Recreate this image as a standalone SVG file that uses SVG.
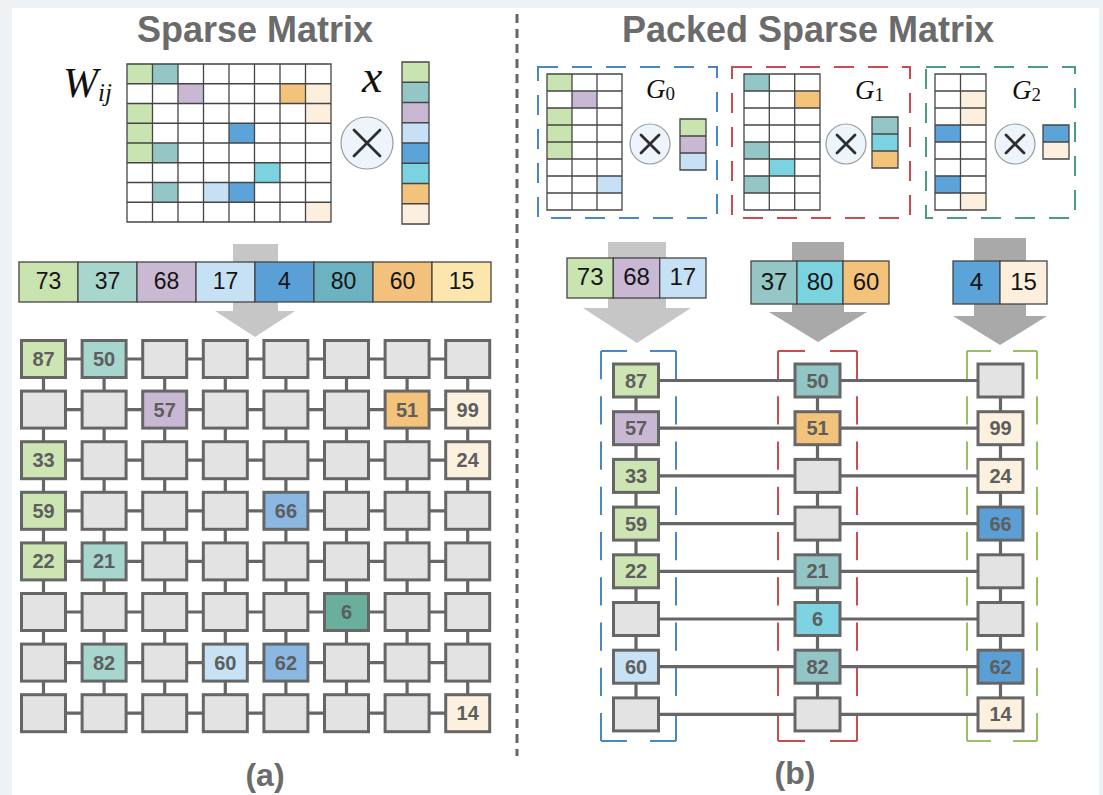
<svg xmlns="http://www.w3.org/2000/svg" width="1103" height="795" viewBox="0 0 1103 795">
<style>
  .title{font-family:"Liberation Sans",Arial,sans-serif;font-weight:bold;font-size:36px;fill:#6b6b6b;text-anchor:middle}
  .cap{font-family:"Liberation Sans",Arial,sans-serif;font-weight:bold;font-size:32px;fill:#6b6b6b;text-anchor:middle}
  .math{font-family:"Liberation Serif","Times New Roman",serif;font-style:italic;fill:#111}
  .sub{font-style:normal}
  .num{font-family:"Liberation Sans",Arial,sans-serif;font-size:23px;fill:#151515;text-anchor:middle}
  .num2{font-family:"Liberation Sans",Arial,sans-serif;font-size:24px;fill:#151515;text-anchor:middle}
  .lbl{font-family:"Liberation Sans",Arial,sans-serif;font-weight:bold;font-size:20px;fill:#5e5e5e;text-anchor:middle}
  .grid{fill:none;stroke:#454545;stroke-width:1.3}
  .cell{stroke:#454545;stroke-width:1.3}
  .n{fill:#e3e3e3;stroke:#666;stroke-width:3}
  .conn{stroke:#666;stroke-width:3.2;fill:none}
  .op{fill:#eef4fb;stroke:#9a9a9a;stroke-width:1.2}
  .opx{stroke:#2e2e2e;stroke-width:2.8;stroke-linecap:round}
  .fr{fill:none;stroke-width:2}
  .frv{stroke-dasharray:28.25 17}
  .g{fill:#c9e4b1}.t{fill:#93c6c4}.p{fill:#c9b8d4}.lb{fill:#c6e1f5}.b{fill:#5ba3d9}
  .c{fill:#7cd3e0}.o{fill:#f3c27b}.cr{fill:#fcefdd}
  .gn{fill:#cce5b3}.tp{fill:#a6d6cd}.pn{fill:#c9b8d3}.on{fill:#f3c27b}.crn{fill:#fcf0de}
  .bn{fill:#8ab8e3}.dk{fill:#6aae9c}.lbn{fill:#c7e1f5}
  .tr{fill:#92c5c5}.cy{fill:#7dd3e1}.br{fill:#5aa0d6}
  .arL{fill:#c6c6c6}.arD{fill:#a9a9a9}
</style>

<!-- page -->
<rect x="0" y="0" width="1103" height="795" fill="#eef2f5"/>
<rect x="12" y="8" width="1087" height="787" fill="#ffffff"/>

<!-- divider -->
<line x1="517" y1="14" x2="517" y2="756" stroke="#666" stroke-width="3" stroke-dasharray="9 6"/>

<!-- headings -->
<text class="title" x="255" y="42">Sparse Matrix</text>
<text class="title" x="808" y="42">Packed Sparse Matrix</text>
<text class="cap" x="265" y="786">(a)</text>
<text class="cap" x="795" y="784">(b)</text>

<!-- ============ (a) sparse matrix times vector ============ -->
<g id="w-matrix">
  <text class="math" x="63" y="97" font-size="42">W<tspan font-size="25" dy="4">ij</tspan></text>
  <rect class="g" x="127" y="64" width="25.5" height="19.75"/>
  <rect class="t" x="152.5" y="64" width="25.5" height="19.75"/>
  <rect class="p" x="178" y="83.75" width="25.5" height="19.75"/>
  <rect class="o" x="280" y="83.75" width="25.5" height="19.75"/>
  <rect class="cr" x="305.5" y="83.75" width="25.5" height="19.75"/>
  <rect class="g" x="127" y="103.5" width="25.5" height="19.75"/>
  <rect class="cr" x="305.5" y="103.5" width="25.5" height="19.75"/>
  <rect class="g" x="127" y="123.25" width="25.5" height="19.75"/>
  <rect class="b" x="229" y="123.25" width="25.5" height="19.75"/>
  <rect class="g" x="127" y="143" width="25.5" height="19.75"/>
  <rect class="t" x="152.5" y="143" width="25.5" height="19.75"/>
  <rect class="c" x="254.5" y="162.75" width="25.5" height="19.75"/>
  <rect class="t" x="152.5" y="182.5" width="25.5" height="19.75"/>
  <rect class="lb" x="203.5" y="182.5" width="25.5" height="19.75"/>
  <rect class="b" x="229" y="182.5" width="25.5" height="19.75"/>
  <rect class="cr" x="305.5" y="202.25" width="25.5" height="19.75"/>
  <path class="grid" d="M127 64H331V222H127Z M127 83.75H331 M127 103.5H331 M127 123.25H331 M127 143H331 M127 162.75H331 M127 182.5H331 M127 202.25H331 M152.5 64V222 M178 64V222 M203.5 64V222 M229 64V222 M254.5 64V222 M280 64V222 M305.5 64V222"/>
</g>

<g id="times-a">
  <circle class="op" cx="367" cy="143" r="26"/>
  <path class="opx" d="M354 130L380 156M380 130L354 156"/>
</g>

<g id="x-vector">
  <text class="math" x="362" y="92" font-size="46">x</text>
  <rect class="g" x="402" y="62" width="27" height="20.25"/>
  <rect class="t" x="402" y="82.25" width="27" height="20.25"/>
  <rect class="p" x="402" y="102.5" width="27" height="20.25"/>
  <rect class="lb" x="402" y="122.75" width="27" height="20.25"/>
  <rect class="b" x="402" y="143" width="27" height="20.25"/>
  <rect class="c" x="402" y="163.25" width="27" height="20.25"/>
  <rect class="o" x="402" y="183.5" width="27" height="20.25"/>
  <rect class="cr" x="402" y="203.75" width="27" height="20.25"/>
  <path class="grid" d="M402 62H429V224H402Z M402 82.25H429 M402 102.5H429 M402 122.75H429 M402 143H429 M402 163.25H429 M402 183.5H429 M402 203.75H429"/>
</g>

<!-- big arrow into the PE array -->
<path id="arrow-a" class="arL" d="M233 244H278V311H295L255 337L215 311H233Z"/>

<g id="values-a">
  <rect class="cell" x="19" y="262" width="59" height="40" fill="#c8e2b0"/>
  <rect class="cell" x="78" y="262" width="59" height="40" fill="#a9d6cc"/>
  <rect class="cell" x="137" y="262" width="59" height="40" fill="#cab9d3"/>
  <rect class="cell" x="196" y="262" width="59" height="40" fill="#c7e1f4"/>
  <rect class="cell" x="255" y="262" width="59" height="40" fill="#5a9fd6"/>
  <rect class="cell" x="314" y="262" width="59" height="40" fill="#6cb2c1"/>
  <rect class="cell" x="373" y="262" width="59" height="40" fill="#f2c17b"/>
  <rect class="cell" x="432" y="262" width="59" height="40" fill="#fbe7ad"/>
  <text class="num" x="48.5" y="289">73</text>
  <text class="num" x="107.5" y="289">37</text>
  <text class="num" x="166.5" y="289">68</text>
  <text class="num" x="225.5" y="289">17</text>
  <text class="num" x="284.5" y="289">4</text>
  <text class="num" x="343.5" y="289">80</text>
  <text class="num" x="402.5" y="289">60</text>
  <text class="num" x="461.5" y="289">15</text>
</g>

<!-- 8x8 PE array links -->
<g id="links-a">
  <path class="conn" d="M43.5 359H467.7 M43.5 409.6H467.7 M43.5 460.2H467.7 M43.5 510.8H467.7 M43.5 561.4H467.7 M43.5 612H467.7 M43.5 662.6H467.7 M43.5 713.2H467.7"/>
  <path class="conn" d="M43.5 359V713.2 M104.1 359V713.2 M164.7 359V713.2 M225.3 359V713.2 M285.9 359V713.2 M346.5 359V713.2 M407.1 359V713.2 M467.7 359V713.2"/>
</g>

<!-- row 0 -->
<g id="a-r0c0"><rect class="n gn" x="21.5" y="340.5" width="44" height="37"/><text class="lbl" x="43.5" y="366">87</text></g>
<g id="a-r0c1"><rect class="n tp" x="82.1" y="340.5" width="44" height="37"/><text class="lbl" x="104.1" y="366">50</text></g>
<g id="a-r0c2"><rect class="n" x="142.7" y="340.5" width="44" height="37"/></g>
<g id="a-r0c3"><rect class="n" x="203.3" y="340.5" width="44" height="37"/></g>
<g id="a-r0c4"><rect class="n" x="263.9" y="340.5" width="44" height="37"/></g>
<g id="a-r0c5"><rect class="n" x="324.5" y="340.5" width="44" height="37"/></g>
<g id="a-r0c6"><rect class="n" x="385.1" y="340.5" width="44" height="37"/></g>
<g id="a-r0c7"><rect class="n" x="445.7" y="340.5" width="44" height="37"/></g>
<!-- row 1 -->
<g id="a-r1c0"><rect class="n" x="21.5" y="391.1" width="44" height="37"/></g>
<g id="a-r1c1"><rect class="n" x="82.1" y="391.1" width="44" height="37"/></g>
<g id="a-r1c2"><rect class="n pn" x="142.7" y="391.1" width="44" height="37"/><text class="lbl" x="164.7" y="416.6">57</text></g>
<g id="a-r1c3"><rect class="n" x="203.3" y="391.1" width="44" height="37"/></g>
<g id="a-r1c4"><rect class="n" x="263.9" y="391.1" width="44" height="37"/></g>
<g id="a-r1c5"><rect class="n" x="324.5" y="391.1" width="44" height="37"/></g>
<g id="a-r1c6"><rect class="n on" x="385.1" y="391.1" width="44" height="37"/><text class="lbl" x="407.1" y="416.6">51</text></g>
<g id="a-r1c7"><rect class="n crn" x="445.7" y="391.1" width="44" height="37"/><text class="lbl" x="467.7" y="416.6">99</text></g>
<!-- row 2 -->
<g id="a-r2c0"><rect class="n gn" x="21.5" y="441.7" width="44" height="37"/><text class="lbl" x="43.5" y="467.2">33</text></g>
<g id="a-r2c1"><rect class="n" x="82.1" y="441.7" width="44" height="37"/></g>
<g id="a-r2c2"><rect class="n" x="142.7" y="441.7" width="44" height="37"/></g>
<g id="a-r2c3"><rect class="n" x="203.3" y="441.7" width="44" height="37"/></g>
<g id="a-r2c4"><rect class="n" x="263.9" y="441.7" width="44" height="37"/></g>
<g id="a-r2c5"><rect class="n" x="324.5" y="441.7" width="44" height="37"/></g>
<g id="a-r2c6"><rect class="n" x="385.1" y="441.7" width="44" height="37"/></g>
<g id="a-r2c7"><rect class="n crn" x="445.7" y="441.7" width="44" height="37"/><text class="lbl" x="467.7" y="467.2">24</text></g>
<!-- row 3 -->
<g id="a-r3c0"><rect class="n gn" x="21.5" y="492.3" width="44" height="37"/><text class="lbl" x="43.5" y="517.8">59</text></g>
<g id="a-r3c1"><rect class="n" x="82.1" y="492.3" width="44" height="37"/></g>
<g id="a-r3c2"><rect class="n" x="142.7" y="492.3" width="44" height="37"/></g>
<g id="a-r3c3"><rect class="n" x="203.3" y="492.3" width="44" height="37"/></g>
<g id="a-r3c4"><rect class="n bn" x="263.9" y="492.3" width="44" height="37"/><text class="lbl" x="285.9" y="517.8">66</text></g>
<g id="a-r3c5"><rect class="n" x="324.5" y="492.3" width="44" height="37"/></g>
<g id="a-r3c6"><rect class="n" x="385.1" y="492.3" width="44" height="37"/></g>
<g id="a-r3c7"><rect class="n" x="445.7" y="492.3" width="44" height="37"/></g>
<!-- row 4 -->
<g id="a-r4c0"><rect class="n gn" x="21.5" y="542.9" width="44" height="37"/><text class="lbl" x="43.5" y="568.4">22</text></g>
<g id="a-r4c1"><rect class="n tp" x="82.1" y="542.9" width="44" height="37"/><text class="lbl" x="104.1" y="568.4">21</text></g>
<g id="a-r4c2"><rect class="n" x="142.7" y="542.9" width="44" height="37"/></g>
<g id="a-r4c3"><rect class="n" x="203.3" y="542.9" width="44" height="37"/></g>
<g id="a-r4c4"><rect class="n" x="263.9" y="542.9" width="44" height="37"/></g>
<g id="a-r4c5"><rect class="n" x="324.5" y="542.9" width="44" height="37"/></g>
<g id="a-r4c6"><rect class="n" x="385.1" y="542.9" width="44" height="37"/></g>
<g id="a-r4c7"><rect class="n" x="445.7" y="542.9" width="44" height="37"/></g>
<!-- row 5 -->
<g id="a-r5c0"><rect class="n" x="21.5" y="593.5" width="44" height="37"/></g>
<g id="a-r5c1"><rect class="n" x="82.1" y="593.5" width="44" height="37"/></g>
<g id="a-r5c2"><rect class="n" x="142.7" y="593.5" width="44" height="37"/></g>
<g id="a-r5c3"><rect class="n" x="203.3" y="593.5" width="44" height="37"/></g>
<g id="a-r5c4"><rect class="n" x="263.9" y="593.5" width="44" height="37"/></g>
<g id="a-r5c5"><rect class="n dk" x="324.5" y="593.5" width="44" height="37"/><text class="lbl" x="346.5" y="619">6</text></g>
<g id="a-r5c6"><rect class="n" x="385.1" y="593.5" width="44" height="37"/></g>
<g id="a-r5c7"><rect class="n" x="445.7" y="593.5" width="44" height="37"/></g>
<!-- row 6 -->
<g id="a-r6c0"><rect class="n" x="21.5" y="644.1" width="44" height="37"/></g>
<g id="a-r6c1"><rect class="n tp" x="82.1" y="644.1" width="44" height="37"/><text class="lbl" x="104.1" y="669.6">82</text></g>
<g id="a-r6c2"><rect class="n" x="142.7" y="644.1" width="44" height="37"/></g>
<g id="a-r6c3"><rect class="n lbn" x="203.3" y="644.1" width="44" height="37"/><text class="lbl" x="225.3" y="669.6">60</text></g>
<g id="a-r6c4"><rect class="n bn" x="263.9" y="644.1" width="44" height="37"/><text class="lbl" x="285.9" y="669.6">62</text></g>
<g id="a-r6c5"><rect class="n" x="324.5" y="644.1" width="44" height="37"/></g>
<g id="a-r6c6"><rect class="n" x="385.1" y="644.1" width="44" height="37"/></g>
<g id="a-r6c7"><rect class="n" x="445.7" y="644.1" width="44" height="37"/></g>
<!-- row 7 -->
<g id="a-r7c0"><rect class="n" x="21.5" y="694.7" width="44" height="37"/></g>
<g id="a-r7c1"><rect class="n" x="82.1" y="694.7" width="44" height="37"/></g>
<g id="a-r7c2"><rect class="n" x="142.7" y="694.7" width="44" height="37"/></g>
<g id="a-r7c3"><rect class="n" x="203.3" y="694.7" width="44" height="37"/></g>
<g id="a-r7c4"><rect class="n" x="263.9" y="694.7" width="44" height="37"/></g>
<g id="a-r7c5"><rect class="n" x="324.5" y="694.7" width="44" height="37"/></g>
<g id="a-r7c6"><rect class="n" x="385.1" y="694.7" width="44" height="37"/></g>
<g id="a-r7c7"><rect class="n crn" x="445.7" y="694.7" width="44" height="37"/><text class="lbl" x="467.7" y="720.2">14</text></g>

<!-- ============ (b) packed groups ============ -->
<g id="group-g0">
  <rect x="538" y="67" width="179" height="151" fill="none" stroke="#4a86c4" stroke-width="2" stroke-dasharray="20 14"/>
  <rect class="g" x="547" y="74" width="25" height="17"/>
  <rect class="p" x="572" y="91" width="25" height="17"/>
  <rect class="g" x="547" y="108" width="25" height="17"/>
  <rect class="g" x="547" y="125" width="25" height="17"/>
  <rect class="g" x="547" y="142" width="25" height="17"/>
  <rect class="lb" x="597" y="176" width="25" height="17"/>
  <path class="grid" d="M547 74H622V210H547Z M547 91H622 M547 108H622 M547 125H622 M547 142H622 M547 159H622 M547 176H622 M547 193H622 M572 74V210 M597 74V210"/>
  <circle class="op" cx="650" cy="144" r="20"/>
  <path class="opx" d="M641 135L659 153M659 135L641 153"/>
  <rect class="g" x="680" y="119" width="26" height="17"/>
  <rect class="p" x="680" y="136" width="26" height="17"/>
  <rect class="lb" x="680" y="153" width="26" height="17"/>
  <path class="grid" d="M680 119H706V170H680Z M680 136H706 M680 153H706"/>
  <text class="math" x="646" y="98" font-size="27">G<tspan class="sub" font-size="19" dy="2">0</tspan></text>
</g>

<g id="group-g1">
  <rect x="732" y="67" width="178" height="151" fill="none" stroke="#cc4b52" stroke-width="2" stroke-dasharray="20 14"/>
  <rect class="t" x="744" y="74" width="25.3" height="17"/>
  <rect class="o" x="794.7" y="91" width="25.3" height="17"/>
  <rect class="t" x="744" y="142" width="25.3" height="17"/>
  <rect class="c" x="769.3" y="159" width="25.4" height="17"/>
  <rect class="t" x="744" y="176" width="25.3" height="17"/>
  <path class="grid" d="M744 74H820V210H744Z M744 91H820 M744 108H820 M744 125H820 M744 142H820 M744 159H820 M744 176H820 M744 193H820 M769.3 74V210 M794.7 74V210"/>
  <circle class="op" cx="846" cy="144" r="20"/>
  <path class="opx" d="M837 135L855 153M855 135L837 153"/>
  <rect class="t" x="872" y="117" width="26" height="17"/>
  <rect class="c" x="872" y="134" width="26" height="17"/>
  <rect class="o" x="872" y="151" width="26" height="17"/>
  <path class="grid" d="M872 117H898V168H872Z M872 134H898 M872 151H898"/>
  <text class="math" x="855" y="99" font-size="27">G<tspan class="sub" font-size="19" dy="2">1</tspan></text>
</g>

<g id="group-g2">
  <rect x="926" y="67" width="149" height="151" fill="none" stroke="#4b9c7e" stroke-width="2" stroke-dasharray="20 14"/>
  <rect class="cr" x="960.5" y="91" width="25.5" height="17"/>
  <rect class="cr" x="960.5" y="108" width="25.5" height="17"/>
  <rect class="b" x="935" y="125" width="25.5" height="17"/>
  <rect class="b" x="935" y="176" width="25.5" height="17"/>
  <rect class="cr" x="960.5" y="193" width="25.5" height="17"/>
  <path class="grid" d="M935 74H986V210H935Z M935 91H986 M935 108H986 M935 125H986 M935 142H986 M935 159H986 M935 176H986 M935 193H986 M960.5 74V210"/>
  <circle class="op" cx="1015" cy="144" r="20"/>
  <path class="opx" d="M1006 135L1024 153M1024 135L1006 153"/>
  <rect class="b" x="1043" y="125" width="26" height="17"/>
  <rect class="cr" x="1043" y="142" width="26" height="17"/>
  <path class="grid" d="M1043 125H1069V159H1043Z M1043 142H1069"/>
  <text class="math" x="1012" y="99" font-size="27">G<tspan class="sub" font-size="19" dy="2">2</tspan></text>
</g>

<!-- arrows into the packed columns -->
<path id="arrow-b0" class="arL" d="M608 242H666V308H691L637 343L583 308H608Z"/>
<path id="arrow-b1" class="arD" d="M792 242H844V312H867L818 342L769 312H792Z"/>
<path id="arrow-b2" class="arD" d="M974 238H1026V316H1047L1000 345L953 316H974Z"/>

<g id="values-g0">
  <rect class="cell g" x="567" y="258" width="46.3" height="40"/>
  <rect class="cell p" x="613.3" y="258" width="46.4" height="40"/>
  <rect class="cell lb" x="659.7" y="258" width="46.3" height="40"/>
  <text class="num2" x="590.2" y="285">73</text>
  <text class="num2" x="636.5" y="285">68</text>
  <text class="num2" x="682.8" y="285">17</text>
</g>
<g id="values-g1">
  <rect class="cell t" x="751" y="261" width="46" height="43"/>
  <rect class="cell c" x="797" y="261" width="46" height="43"/>
  <rect class="cell o" x="843" y="261" width="46" height="43"/>
  <text class="num2" x="774" y="290">37</text>
  <text class="num2" x="820" y="290">80</text>
  <text class="num2" x="866" y="290">60</text>
</g>
<g id="values-g2">
  <rect class="cell b" x="953" y="261" width="47" height="43"/>
  <rect class="cell cr" x="1000" y="261" width="47" height="43"/>
  <text class="num2" x="976.5" y="290">4</text>
  <text class="num2" x="1023.5" y="290">15</text>
</g>

<!-- column frames: each edge dashed from its own corners -->
<g id="frame-b0" class="fr" stroke="#4a86c4">
  <path d="M601 351H676 M601 741H676" stroke-dasharray="26 23"/>
  <path class="frv" d="M601 351V741 M676 351V741"/>
</g>
<g id="frame-b1" class="fr" stroke="#cc4b52">
  <path d="M778 351H857 M778 741H857" stroke-dasharray="27 25"/>
  <path class="frv" d="M778 351V741 M857 351V741"/>
</g>
<g id="frame-b2" class="fr" stroke="#97c160">
  <path d="M967 351H1037 M967 741H1037" stroke-dasharray="24 22"/>
  <path class="frv" d="M967 351V741 M1037 351V741"/>
</g>

<!-- packed array links -->
<g id="links-b">
  <path class="conn" d="M636 380.5H1000.5 M636 428.2H1000.5 M636 475.9H1000.5 M636 523.6H1000.5 M636 571.3H1000.5 M636 619H1000.5 M636 666.7H1000.5 M636 714.4H1000.5"/>
  <path class="conn" d="M636 380.5V714.4 M817.5 380.5V714.4 M1000.5 380.5V714.4"/>
</g>

<!-- column A -->
<g id="b-r0c0"><rect class="n gn" x="613.5" y="364" width="45" height="33"/><text class="lbl" x="636" y="387.5">87</text></g>
<g id="b-r1c0"><rect class="n pn" x="613.5" y="411.7" width="45" height="33"/><text class="lbl" x="636" y="435.2">57</text></g>
<g id="b-r2c0"><rect class="n gn" x="613.5" y="459.4" width="45" height="33"/><text class="lbl" x="636" y="482.9">33</text></g>
<g id="b-r3c0"><rect class="n gn" x="613.5" y="507.1" width="45" height="33"/><text class="lbl" x="636" y="530.6">59</text></g>
<g id="b-r4c0"><rect class="n gn" x="613.5" y="554.8" width="45" height="33"/><text class="lbl" x="636" y="578.3">22</text></g>
<g id="b-r5c0"><rect class="n" x="613.5" y="602.5" width="45" height="33"/></g>
<g id="b-r6c0"><rect class="n lbn" x="613.5" y="650.2" width="45" height="33"/><text class="lbl" x="636" y="673.7">60</text></g>
<g id="b-r7c0"><rect class="n" x="613.5" y="697.9" width="45" height="33"/></g>
<!-- column B -->
<g id="b-r0c1"><rect class="n tr" x="795" y="364" width="45" height="33"/><text class="lbl" x="817.5" y="387.5">50</text></g>
<g id="b-r1c1"><rect class="n on" x="795" y="411.7" width="45" height="33"/><text class="lbl" x="817.5" y="435.2">51</text></g>
<g id="b-r2c1"><rect class="n" x="795" y="459.4" width="45" height="33"/></g>
<g id="b-r3c1"><rect class="n" x="795" y="507.1" width="45" height="33"/></g>
<g id="b-r4c1"><rect class="n tr" x="795" y="554.8" width="45" height="33"/><text class="lbl" x="817.5" y="578.3">21</text></g>
<g id="b-r5c1"><rect class="n cy" x="795" y="602.5" width="45" height="33"/><text class="lbl" x="817.5" y="626">6</text></g>
<g id="b-r6c1"><rect class="n tr" x="795" y="650.2" width="45" height="33"/><text class="lbl" x="817.5" y="673.7">82</text></g>
<g id="b-r7c1"><rect class="n" x="795" y="697.9" width="45" height="33"/></g>
<!-- column C -->
<g id="b-r0c2"><rect class="n" x="978" y="364" width="45" height="33"/></g>
<g id="b-r1c2"><rect class="n crn" x="978" y="411.7" width="45" height="33"/><text class="lbl" x="1000.5" y="435.2">99</text></g>
<g id="b-r2c2"><rect class="n crn" x="978" y="459.4" width="45" height="33"/><text class="lbl" x="1000.5" y="482.9">24</text></g>
<g id="b-r3c2"><rect class="n br" x="978" y="507.1" width="45" height="33"/><text class="lbl" x="1000.5" y="530.6">66</text></g>
<g id="b-r4c2"><rect class="n" x="978" y="554.8" width="45" height="33"/></g>
<g id="b-r5c2"><rect class="n" x="978" y="602.5" width="45" height="33"/></g>
<g id="b-r6c2"><rect class="n br" x="978" y="650.2" width="45" height="33"/><text class="lbl" x="1000.5" y="673.7">62</text></g>
<g id="b-r7c2"><rect class="n crn" x="978" y="697.9" width="45" height="33"/><text class="lbl" x="1000.5" y="721.4">14</text></g>
</svg>
